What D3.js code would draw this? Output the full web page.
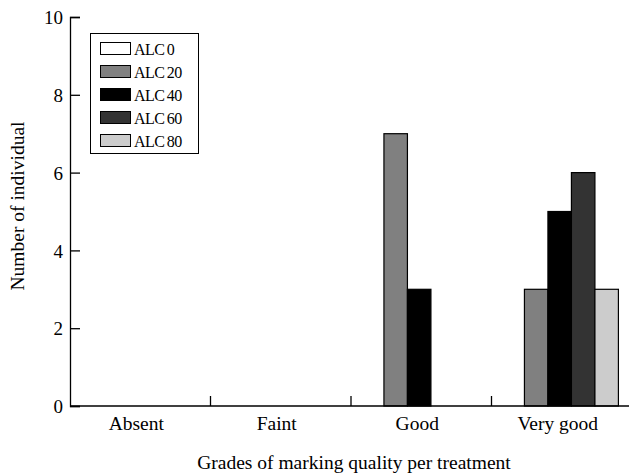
<!DOCTYPE html>
<html><head><meta charset="utf-8">
<script src="https://cdn.jsdelivr.net/npm/d3@7"></script>
<style>body{margin:0;background:#fff}svg{display:block}text{font-family:"Liberation Serif","Times New Roman",serif;fill:#000}</style>
</head><body><svg id="c" width="629" height="475"></svg>
<script>
const categories = ["Absent","Faint","Good","Very good"];
const series = ["ALC 0","ALC 20","ALC 40","ALC 60","ALC 80"];
const values = [
  [0,0,0,0],   // ALC 0
  [0,0,7,3],   // ALC 20
  [0,0,3,5],   // ALC 40
  [0,0,0,6],   // ALC 60
  [0,0,0,3]    // ALC 80
];
const colors = ["#ffffff","#808080","#000000","#333333","#cccccc"];
const yTicks = [0,2,4,6,8,10];

const svg = d3.select("#c");
const H = 475;
const x = d3.scaleBand().domain(categories).range([70, 632]);
const xi = d3.scaleBand().domain(series).range([0, x.bandwidth()]).paddingOuter(0.49).align(0.41);
const y = d3.scaleLinear().domain([0,10]).range([406, 17]);

const g = svg.append("g");
categories.forEach((c,ci)=>{
  series.forEach((s,si)=>{
    const v = values[si][ci];
    if(v>0){
      g.append("rect").attr("x", x(c)+xi(s)).attr("y", y(v))
       .attr("width", xi.bandwidth()).attr("height", y(0)-y(v))
       .attr("fill", colors[si]).attr("stroke","#000").attr("stroke-width",1.2);
    }
  });
});

// y axis
const ya = svg.append("g").attr("transform","translate(70,0)")
  .call(d3.axisRight(y).tickValues(yTicks).tickSize(10).tickFormat(d3.format("d")));
ya.select(".domain").attr("stroke","#000").attr("stroke-width",1.3);
ya.selectAll(".tick line").attr("stroke","#000").attr("stroke-width",1.3);
ya.selectAll(".tick text").attr("x",-7).attr("text-anchor","end").attr("dy","0.35em")
  .style("font-size","19px").style("font-family","Liberation Serif");

// x axis baseline
svg.append("line").attr("x1",70).attr("x2",629).attr("y1",y(0)).attr("y2",y(0))
  .attr("stroke","#000").attr("stroke-width",1.3);
// boundary ticks
categories.slice(1).forEach(c=>{
  svg.append("line").attr("x1",x(c)).attr("x2",x(c)).attr("y1",y(0)).attr("y2",y(0)-10)
    .attr("stroke","#000").attr("stroke-width",1.3);
});
categories.forEach(c=>{
  svg.append("text").attr("x",x(c)+x.bandwidth()/2-4).attr("y",430)
    .attr("text-anchor","middle").style("font-size","19.5px").text(c);
});

svg.append("text").attr("x",354).attr("y",469).attr("text-anchor","middle")
  .style("font-size","19.5px").text("Grades of marking quality per treatment");
svg.append("text").attr("transform","translate(24,206) rotate(-90)")
  .attr("text-anchor","middle").style("font-size","19.5px").text("Number of individual");

// legend
const lg = svg.append("g");
lg.append("rect").attr("x",90.5).attr("y",33.5).attr("width",108).attr("height",120)
  .attr("fill","#fff").attr("stroke","#000").attr("stroke-width",1);
series.forEach((s,i)=>{
  const yy = 42 + i*23;
  lg.append("rect").attr("x",100.5).attr("y",yy+0.5).attr("width",30).attr("height",12)
    .attr("fill",colors[i]).attr("stroke","#000").attr("stroke-width",1);
  lg.append("text").attr("x",134).attr("y",yy+12.5).style("font-size","16px")
    .style("letter-spacing","-0.6px").text(s.replace(" ","\u2009"));
});
</script></body></html>
